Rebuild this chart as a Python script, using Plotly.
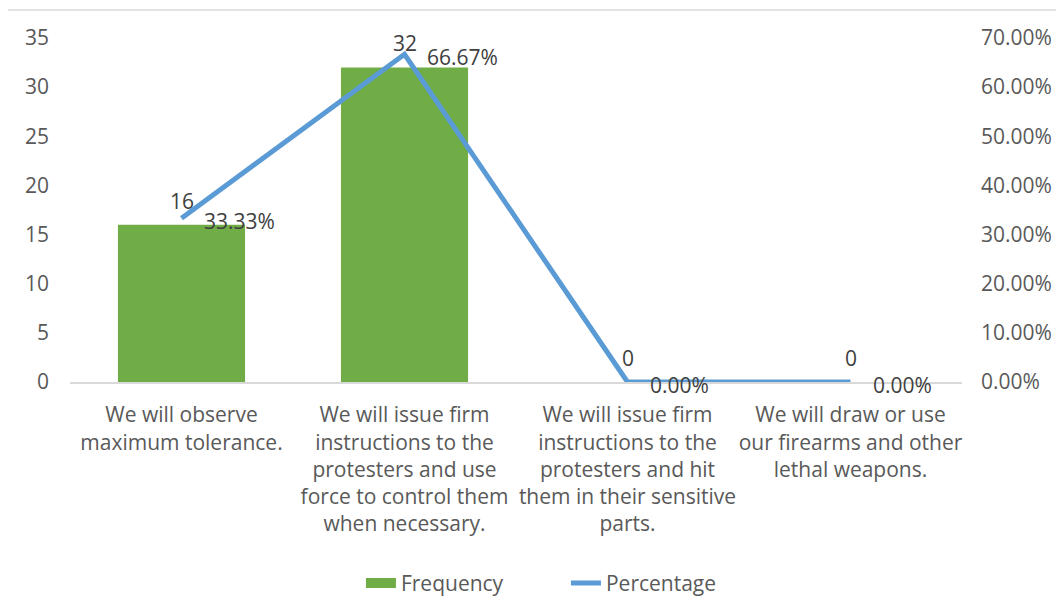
import plotly.graph_objects as go

categories = [
    "We will observe<br>maximum tolerance.",
    "We will issue firm<br>instructions to the<br>protesters and use<br>force to control them<br>when necessary.",
    "We will issue firm<br>instructions to the<br>protesters and hit<br>them in their sensitive<br>parts.",
    "We will draw or use<br>our firearms and other<br>lethal weapons.",
]
frequency = [16, 32, 0, 0]
percentage = [0.3333, 0.6667, 0.0, 0.0]
freq_labels = ["16", "32", "0", "0"]
pct_labels = ["33.33%", "66.67%", "0.00%", "0.00%"]

FONT = "Open Sans"
TXT = "#595959"
LBL = "#404040"
FS = 21
GREEN = "#70AD47"
BLUE = "#5B9BD5"

fig = go.Figure()
fig.add_trace(go.Bar(
    x=categories, y=frequency, name="Frequency",
    marker=dict(color=GREEN, line=dict(width=0)),
    yaxis="y", showlegend=False,
))
fig.add_trace(go.Scatter(
    x=categories, y=percentage, name="Percentage",
    mode="lines", line=dict(color=BLUE, width=5),
    yaxis="y2", showlegend=False,
))
# legend keys
fig.add_trace(go.Scatter(x=[None], y=[None], name="Frequency", mode="lines",
                         line=dict(color=GREEN, width=11), showlegend=True))
fig.add_trace(go.Scatter(x=[None], y=[None], name="Percentage", mode="lines",
                         line=dict(color=BLUE, width=5), showlegend=True))

annotations = []
for c, v, t in zip(categories, frequency, freq_labels):
    annotations.append(dict(x=c, y=v, xref="x", yref="y", text=t, showarrow=False,
                            xanchor="center", yanchor="middle", yshift=24,
                            font=dict(family=FONT, size=FS, color=LBL)))
for c, v, t in zip(categories, percentage, pct_labels):
    annotations.append(dict(x=c, y=v, xref="x", yref="y2", text=t, showarrow=False,
                            xanchor="left", yanchor="middle", xshift=20, yshift=-3,
                            font=dict(family=FONT, size=FS, color=LBL)))

fig.update_layout(
    width=1056, height=608,
    margin=dict(l=62, r=99, t=30, b=233),
    paper_bgcolor="white", plot_bgcolor="white",
    font=dict(family=FONT, size=FS, color=TXT),
    bargap=0.43,
    showlegend=True,
    legend=dict(orientation="h", x=0.556, xanchor="center", y=-0.585, yanchor="middle",
                font=dict(family=FONT, size=FS, color=TXT),
                entrywidth=160, traceorder="normal"),
    xaxis=dict(showgrid=False, showline=True, linecolor="#D9D9D9", linewidth=2,
               ticks="", tickfont=dict(family=FONT, size=FS, color=TXT),
               zeroline=False, ticklabelstandoff=13),
    yaxis=dict(range=[0, 35], dtick=5, showgrid=False, zeroline=False, showline=False,
               tickfont=dict(family=FONT, size=FS, color=TXT), ticklabelstandoff=20),
    yaxis2=dict(range=[0, 0.7], dtick=0.1, tickformat=".2%", overlaying="y", side="right",
                showgrid=False, zeroline=False, showline=False,
                tickfont=dict(family=FONT, size=FS, color=TXT), ticklabelstandoff=18),
    annotations=annotations,
    shapes=[dict(type="rect", xref="paper", yref="paper",
                 x0=(7 - 70) / 895, x1=1.3, y0=-1.0, y1=(383 - 10) / 345,
                 line=dict(color="#D9D9D9", width=1.5), fillcolor="rgba(0,0,0,0)",
                 layer="below")],
)

fig.write_html("out.html")
